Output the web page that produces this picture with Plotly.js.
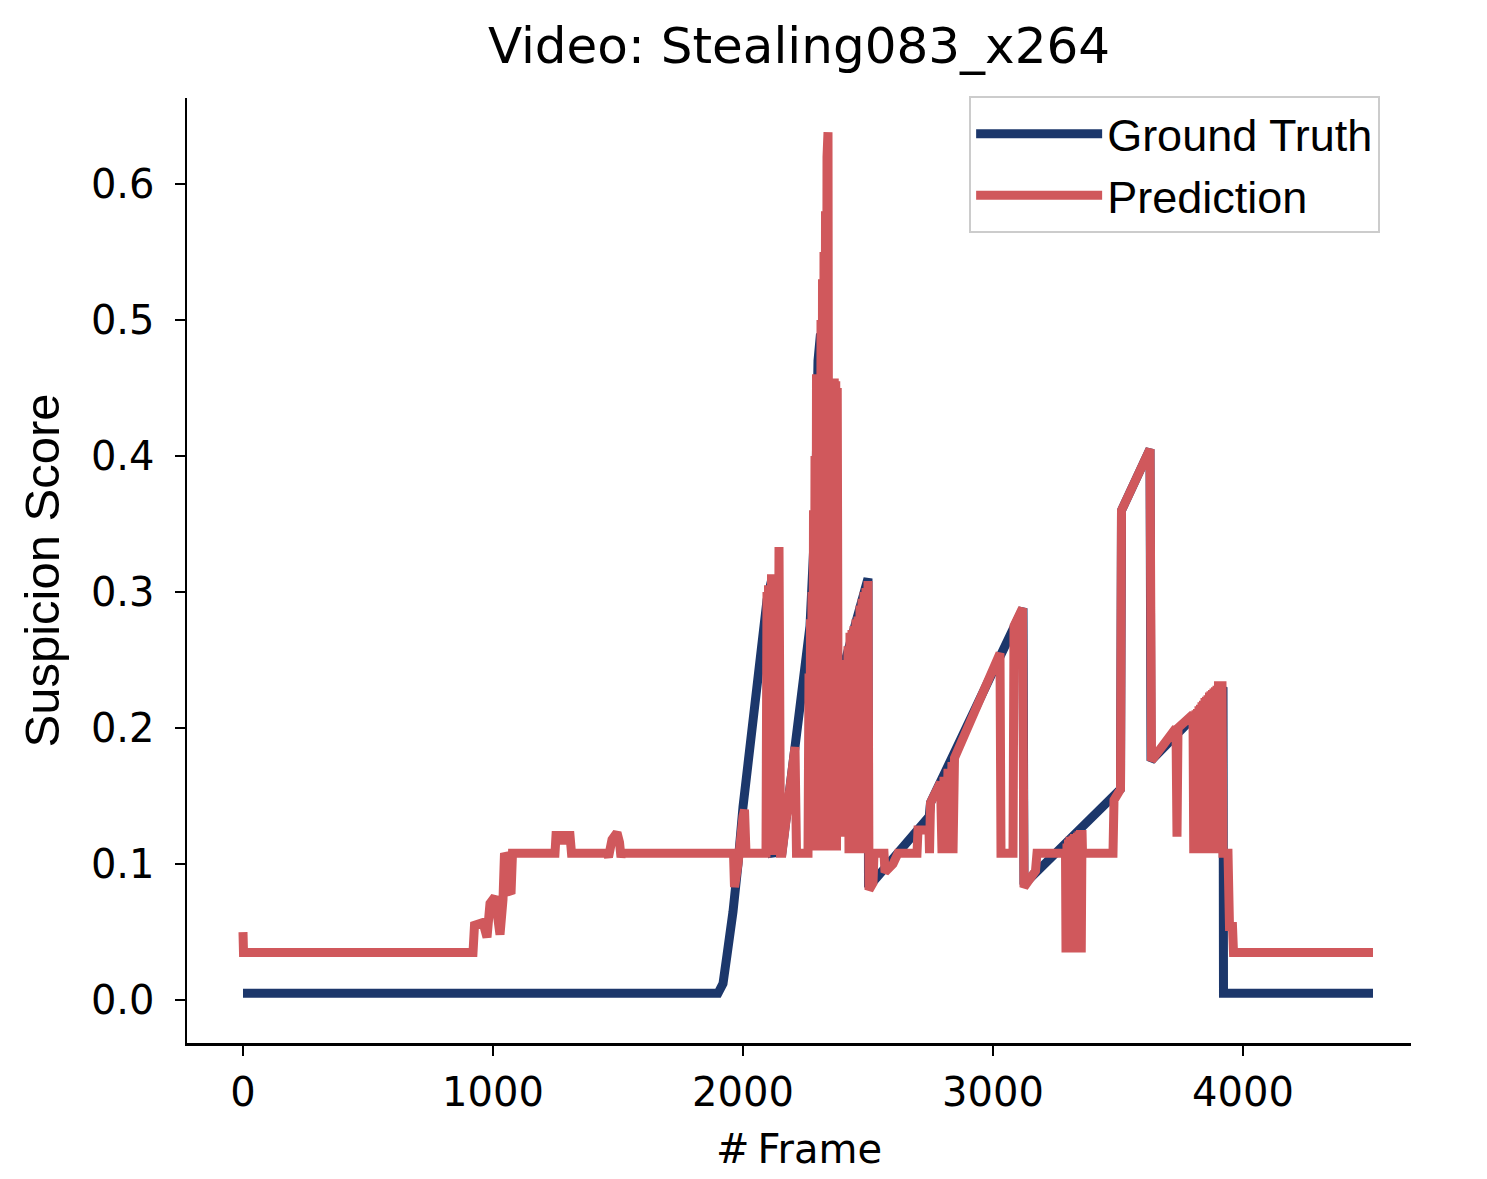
<!DOCTYPE html>
<html>
<head>
<meta charset="utf-8">
<script src="https://cdn.plot.ly/plotly-3.0.1.min.js"></script>
<style>
  html, body { margin: 0; padding: 0; background: #fff; }
  #chart { width: 1487px; height: 1179px; }
</style>
</head>
<body>
<div id="chart"></div>
<script>
// ground truth suspicion score
const gtFrame = [0, 1900, 1920, 1936, 1960, 1980, 2000, 2096, 2116, 2118, 2156, 2268, 2290, 2300, 2310, 2314,
  2380, 2500, 2502, 2745, 2750, 3120, 3124, 3510, 3514, 3628, 3632, 3920, 3922, 4520];
const gtScore = [0.005, 0.005, 0.012, 0.033, 0.065, 0.10, 0.142, 0.294, 0.31, 0.108, 0.109, 0.275, 0.36, 0.47, 0.49, 0.23,
  0.23, 0.31, 0.083, 0.135, 0.145, 0.288, 0.085, 0.155, 0.36, 0.405, 0.176, 0.23, 0.005, 0.005];

// model prediction
const predFrame = [0, 2, 920, 926, 960, 976, 988, 1000, 1008, 1028, 1040, 1046, 1056, 1064, 1072, 1078,
  1248, 1252, 1272, 1280, 1288, 1308, 1314, 1456, 1462, 1476, 1496, 1506, 1512, 1516,
  1962, 1966, 1980, 2000, 2006, 2012, 2092, 2096, 2099, 2102, 2105, 2108, 2111, 2114, 2117, 2120, 2124, 2140, 2144, 2150,
  2156, 2208, 2214, 2260, 2264, 2267, 2270, 2273, 2276, 2279, 2282, 2285, 2288, 2291, 2294, 2297, 2300, 2303,
  2306, 2309, 2312, 2315, 2318, 2321, 2324, 2327, 2330, 2333, 2336, 2340, 2344, 2347, 2350, 2353, 2356, 2359,
  2362, 2365, 2368, 2371, 2374, 2377, 2380, 2384, 2388, 2392, 2396, 2400, 2404, 2408, 2412, 2416, 2420, 2424,
  2428, 2432, 2436, 2440, 2444, 2448, 2452, 2456, 2460, 2464, 2468, 2472, 2476, 2480, 2484, 2488, 2492, 2496,
  2500, 2504, 2520,
  2524, 2564, 2568, 2600, 2620, 2696, 2700, 2744, 2746, 2750, 2790, 2796, 2804, 2812, 2820, 2826, 2836, 2840,
  2846, 3028, 3032, 3080, 3084, 3118, 3124, 3170, 3176, 3290, 3292, 3296, 3299, 3302, 3305, 3308, 3311, 3314,
  3317, 3320, 3323, 3326, 3329, 3332, 3335, 3338, 3341, 3344, 3347, 3350, 3353, 3356, 3358, 3480, 3484, 3510,
  3514, 3628, 3634, 3732, 3736, 3740, 3800, 3803, 3806, 3809, 3812, 3815, 3818, 3821, 3824, 3827, 3830, 3833,
  3836, 3839, 3842, 3845, 3848, 3851, 3854, 3857, 3860, 3863, 3866, 3869, 3872, 3875, 3878, 3881, 3884, 3887,
  3890, 3893, 3896, 3899, 3902, 3916, 3920, 3940, 3946, 3958, 3962, 4520];
const predScore = [0.05, 0.035, 0.035, 0.055, 0.057, 0.046, 0.071, 0.074, 0.076, 0.048, 0.074, 0.108, 0.104, 0.08, 0.078, 0.108,
  0.108, 0.121, 0.121, 0.115, 0.121, 0.121, 0.108, 0.108, 0.105, 0.118, 0.123, 0.116, 0.105, 0.108,
  0.108, 0.083, 0.10, 0.135, 0.14, 0.108, 0.108, 0.30, 0.12, 0.305, 0.11, 0.30, 0.12, 0.313, 0.11, 0.28, 0.11, 0.11, 0.333, 0.108,
  0.108, 0.186, 0.108, 0.108, 0.24, 0.11, 0.28, 0.11, 0.30, 0.11, 0.36, 0.11, 0.40, 0.11, 0.46, 0.12, 0.46, 0.11,
  0.44, 0.12, 0.50, 0.11, 0.53, 0.12, 0.55, 0.13, 0.58, 0.12, 0.62, 0.638, 0.12, 0.44, 0.11, 0.455, 0.12, 0.45,
  0.12, 0.457, 0.12, 0.455, 0.11, 0.45, 0.23, 0.12, 0.235, 0.12, 0.24, 0.12, 0.245, 0.12, 0.25, 0.12, 0.26, 0.108,
  0.27, 0.108, 0.272, 0.108, 0.275, 0.108, 0.28, 0.108, 0.282, 0.108, 0.29, 0.108, 0.295, 0.108, 0.30, 0.108, 0.303, 0.108,
  0.308, 0.081, 0.086,
  0.108, 0.108, 0.094, 0.10, 0.108, 0.108, 0.125, 0.125, 0.108, 0.145, 0.16, 0.108, 0.164, 0.108, 0.17, 0.108, 0.175, 0.108,
  0.178, 0.255, 0.108, 0.108, 0.275, 0.288, 0.083, 0.095, 0.108, 0.108, 0.035, 0.115, 0.035, 0.118, 0.035, 0.12, 0.035, 0.12,
  0.035, 0.121, 0.035, 0.122, 0.035, 0.122, 0.035, 0.123, 0.035, 0.124, 0.035, 0.125, 0.035, 0.125, 0.108, 0.108, 0.147, 0.155,
  0.36, 0.405, 0.176, 0.2, 0.12, 0.2, 0.21, 0.108, 0.211, 0.108, 0.213, 0.108, 0.214, 0.108, 0.216, 0.108, 0.217, 0.108,
  0.219, 0.108, 0.22, 0.108, 0.222, 0.108, 0.223, 0.108, 0.224, 0.108, 0.226, 0.108, 0.227, 0.108, 0.228, 0.108, 0.229, 0.108,
  0.23, 0.108, 0.231, 0.108, 0.231, 0.231, 0.108, 0.108, 0.054, 0.054, 0.035, 0.035];

const xTicks = [0, 1000, 2000, 3000, 4000];
const yTicks = [0, 0.1, 0.2, 0.3, 0.4, 0.5, 0.6];

const tickFont = { family: "DejaVu Sans", size: 40, color: "#000" };

const traces = [
  {
    x: gtFrame,
    y: gtScore,
    type: "scatter",
    mode: "lines",
    name: "Ground Truth",
    line: { color: "#1c376b", width: 9, simplify: false },
  },
  {
    x: predFrame,
    y: predScore,
    type: "scatter",
    mode: "lines",
    name: "Prediction",
    line: { color: "#d0585c", width: 9, simplify: false },
  },
];

const layout = {
  width: 1487,
  height: 1179,
  margin: { l: 187, r: 76, t: 98, b: 136 },
  paper_bgcolor: "#fff",
  plot_bgcolor: "#fff",
  title: {
    text: "Video: Stealing083_x264",
    font: { family: "DejaVu Sans", size: 50, color: "#000" },
    x: 0.5,
    xref: "paper",
    y: 1 - 45 / 1179,
    yref: "container",
    yanchor: "middle",
  },
  xaxis: {
    range: [-224, 4672],
    tickvals: xTicks,
    ticktext: xTicks.map(String),
    ticks: "outside",
    ticklen: 10,
    tickwidth: 2.5,
    tickcolor: "#000",
    ticklabelstandoff: 2,
    showline: true,
    linecolor: "#000",
    linewidth: 2.5,
    showgrid: false,
    zeroline: false,
    tickfont: tickFont,
    title: {
      text: "#\u2009Frame",
      font: { family: "DejaVu Sans", size: 40, color: "#000" },
      standoff: 22,
    },
  },
  yaxis: {
    range: [-0.0316, 0.6632],
    tickvals: yTicks,
    tickformat: ".1f",
    ticks: "outside",
    ticklen: 10,
    tickwidth: 2.5,
    tickcolor: "#000",
    ticklabelstandoff: 12,
    showline: true,
    linecolor: "#000",
    linewidth: 2.5,
    showgrid: false,
    zeroline: false,
    tickfont: tickFont,
    title: {
      text: "Suspicion Score",
      font: { family: "Liberation Sans, Arial", size: 49, color: "#000" },
      standoff: 16,
    },
  },
  legend: {
    x: 0.639,
    y: 1.002,
    xanchor: "left",
    yanchor: "top",
    bgcolor: "#fff",
    bordercolor: "#cccccc",
    borderwidth: 2,
    font: { family: "Liberation Sans, Arial", size: 45, color: "#000" },
    itemwidth: 126,
  },
  showlegend: true,
};

Plotly.newPlot("chart", traces, layout, { displayModeBar: false, staticPlot: true });
</script>
</body>
</html>
